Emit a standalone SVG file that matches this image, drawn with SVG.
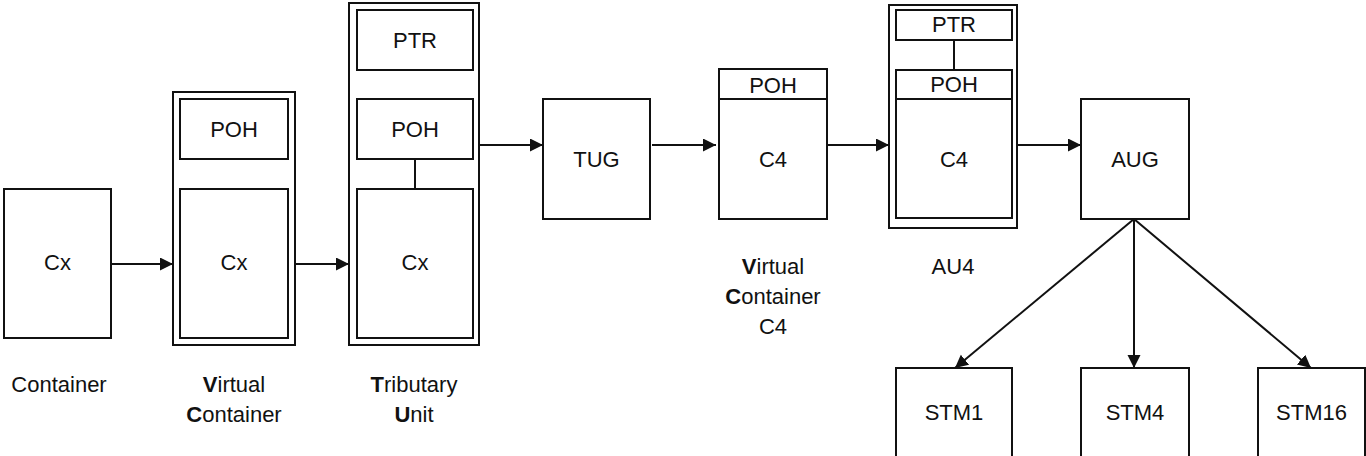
<svg xmlns="http://www.w3.org/2000/svg" width="1366" height="456" viewBox="0 0 1366 456">
<defs>
<marker id="arr" markerUnits="userSpaceOnUse" markerWidth="14" markerHeight="14" refX="13" refY="6.5" orient="auto">
<path d="M0,0 L13,6.5 L0,13 Z" fill="#111"/>
</marker>
<style>
rect{fill:#fff;stroke:#111;stroke-width:2}
line.s{stroke:#111;stroke-width:2}
.c line{stroke:#111;stroke-width:2;marker-end:url(#arr)}
text{font-family:"Liberation Sans",Arial,sans-serif;font-size:22px;fill:#111;text-anchor:middle}
tspan.b{font-weight:bold}
</style>
</defs>
<rect x="0" y="0" width="1366" height="456" style="fill:#fff;stroke:none"/>

<g id="container">
<rect x="4" y="189" width="107" height="149"/>
<text x="57.5" y="270">Cx</text>
<text x="59" y="392">Container</text>
</g>

<g id="vc">
<rect x="173" y="92" width="122" height="253"/>
<rect x="180" y="99" width="108" height="60"/>
<text x="234" y="137">POH</text>
<rect x="180" y="189" width="108" height="149"/>
<text x="234" y="270">Cx</text>
<text x="234" y="392"><tspan class="b">V</tspan>irtual</text>
<text x="234" y="422"><tspan class="b">C</tspan>ontainer</text>
</g>

<g id="tu">
<rect x="349" y="3" width="130" height="342"/>
<rect x="357" y="10" width="116" height="60"/>
<text x="415" y="48">PTR</text>
<rect x="357" y="99" width="116" height="60"/>
<text x="415" y="137">POH</text>
<line class="s" x1="415" y1="159" x2="415" y2="189"/>
<rect x="357" y="189" width="116" height="149"/>
<text x="415" y="270">Cx</text>
<text x="414" y="392"><tspan class="b">T</tspan>ributary</text>
<text x="414" y="422"><tspan class="b">U</tspan>nit</text>
</g>

<g id="tug">
<rect x="543" y="99" width="107" height="120"/>
<text x="596.5" y="167">TUG</text>
</g>

<g id="vc4">
<rect x="719" y="69" width="108" height="150"/>
<line class="s" x1="719" y1="99" x2="827" y2="99"/>
<text x="773" y="93">POH</text>
<text x="773" y="167">C4</text>
<text x="773" y="274"><tspan class="b">V</tspan>irtual</text>
<text x="773" y="304"><tspan class="b">C</tspan>ontainer</text>
<text x="773" y="334">C4</text>
</g>

<g id="au4">
<rect x="889" y="5" width="128" height="223"/>
<rect x="896" y="10" width="116" height="30"/>
<text x="954" y="32">PTR</text>
<line class="s" x1="954" y1="40" x2="954" y2="70"/>
<rect x="896" y="70" width="116" height="148"/>
<line class="s" x1="896" y1="99" x2="1012" y2="99"/>
<text x="954" y="92">POH</text>
<text x="954" y="167">C4</text>
<text x="953" y="274">AU4</text>
</g>

<g id="aug">
<rect x="1081" y="99" width="108" height="120"/>
<text x="1135" y="167">AUG</text>
</g>

<g id="stm1">
<rect x="896" y="368" width="116" height="100"/>
<text x="954" y="420">STM1</text>
</g>
<g id="stm4">
<rect x="1081" y="368" width="108" height="100"/>
<text x="1135" y="420">STM4</text>
</g>
<g id="stm16">
<rect x="1258" y="368" width="107" height="100"/>
<text x="1311.5" y="420">STM16</text>
</g>

<g id="connectors" class="c">
<line x1="111" y1="264" x2="173" y2="264"/>
<line x1="295" y1="264" x2="349" y2="264"/>
<line x1="479" y1="145" x2="543" y2="145"/>
<line x1="652" y1="145" x2="716" y2="145"/>
<line x1="827" y1="145" x2="889" y2="145"/>
<line x1="1017" y1="145" x2="1081" y2="145"/>
<line x1="1134" y1="219" x2="955" y2="368"/>
<line x1="1134" y1="219" x2="1134" y2="368"/>
<line x1="1134" y1="219" x2="1311" y2="368"/>
</g>
</svg>
